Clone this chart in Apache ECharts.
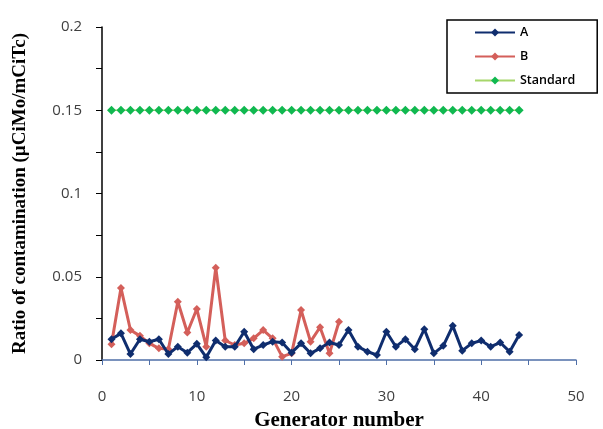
<!DOCTYPE html>
<html>
<head>
<meta charset="utf-8">
<script src="https://cdn.jsdelivr.net/npm/echarts@6/dist/echarts.min.js"></script>
<style>
  html, body { margin: 0; padding: 0; background: #fff; }
  #chart { width: 603px; height: 429px; }
</style>
</head>
<body>
<div id="chart"></div>
<script>
// generator numbers and measured ratios
const seriesNames = ['A', 'B', 'Standard'];
const valuesA = [0.0125, 0.016, 0.0036, 0.0125, 0.011, 0.0125, 0.0036, 0.008, 0.0044, 0.0097,
  0.0016, 0.0117, 0.008, 0.008, 0.017, 0.0065, 0.009, 0.011, 0.0105, 0.0044,
  0.010, 0.004, 0.007, 0.0105, 0.009, 0.018, 0.008, 0.005, 0.003, 0.017,
  0.008, 0.0125, 0.0065, 0.0185, 0.004, 0.0085, 0.0205, 0.0056, 0.010, 0.0117,
  0.008, 0.0105, 0.005, 0.015];
const valuesB = [0.0095, 0.0433, 0.018, 0.0145, 0.010, 0.007, 0.0065, 0.035, 0.0165, 0.0306,
  0.008, 0.0554, 0.0117, 0.009, 0.010, 0.013, 0.018, 0.013, 0.002, 0.004,
  0.030, 0.011, 0.0197, 0.004, 0.023];
const standardValue = 0.15;
const standardCount = 44;

const toPoints = (arr) => arr.map((v, i) => [i + 1, v]);
const standardPoints = [];
for (let i = 1; i <= standardCount; i++) standardPoints.push([i, standardValue]);

const chart = echarts.init(document.getElementById('chart'));
const option = {
  animation: false,
  grid: { left: 102, right: 27, top: 27, bottom: 69, outerBoundsMode: 'none', containLabel: false },
  legend: {
    orient: 'vertical',
    left: 447,
    top: 20,
    padding: [6, 22, 6, 27],
    itemGap: 11,
    itemWidth: 40,
    itemHeight: 10,
    borderColor: '#000',
    borderWidth: 1.5,
    textStyle: { fontFamily: 'Open Sans', fontWeight: 600, fontSize: 12.5, color: '#000' },
    data: seriesNames
  },
  xAxis: {
    type: 'value',
    min: 0, max: 50, interval: 10,
    name: 'Generator number',
    nameLocation: 'middle',
    nameGap: 50,
    nameTextStyle: { fontFamily: 'Liberation Serif', fontWeight: 'bold', fontSize: 21, color: '#000' },
    axisLine: { show: true, lineStyle: { color: '#4f6fa8', width: 1.5 } },
    axisTick: { show: true, length: 5, lineStyle: { color: '#4f6fa8' } },
    minorTick: { show: true, splitNumber: 2, length: 5, lineStyle: { color: '#4f6fa8' } },
    axisLabel: { margin: 29, fontFamily: 'Open Sans', fontSize: 15, color: '#404040' },
    splitLine: { show: false }
  },
  yAxis: {
    type: 'value',
    min: 0, max: 0.2, interval: 0.05,
    name: 'Ratio of contamination (µCiMo/mCiTc)',
    nameLocation: 'middle',
    nameGap: 72,
    nameTextStyle: { fontFamily: 'Liberation Serif', fontWeight: 'bold', fontSize: 19, color: '#000' },
    axisLine: { show: true, lineStyle: { color: '#000', width: 1.5 } },
    axisTick: { show: true, length: 6, lineStyle: { color: '#000' } },
    minorTick: { show: true, splitNumber: 2, length: 6, lineStyle: { color: '#000' } },
    axisLabel: { margin: 20, fontFamily: 'Open Sans', fontSize: 15, color: '#404040' },
    splitLine: { show: false }
  },
  series: [
    {
      name: 'A', type: 'line', data: toPoints(valuesA),
      symbol: 'diamond', symbolSize: 8,
      lineStyle: { color: '#0f2d6e', width: 3 },
      itemStyle: { color: '#0f2d6e' },
      z: 3
    },
    {
      name: 'B', type: 'line', data: toPoints(valuesB),
      symbol: 'diamond', symbolSize: 8,
      lineStyle: { color: '#d45f5a', width: 3 },
      itemStyle: { color: '#d45f5a' },
      z: 2
    },
    {
      name: 'Standard', type: 'line', data: standardPoints,
      symbol: 'diamond', symbolSize: 9,
      lineStyle: { color: '#a6d66a', width: 1.5 },
      itemStyle: { color: '#10b850' }
    }
  ]
};
chart.setOption(option);
</script>
</body>
</html>
